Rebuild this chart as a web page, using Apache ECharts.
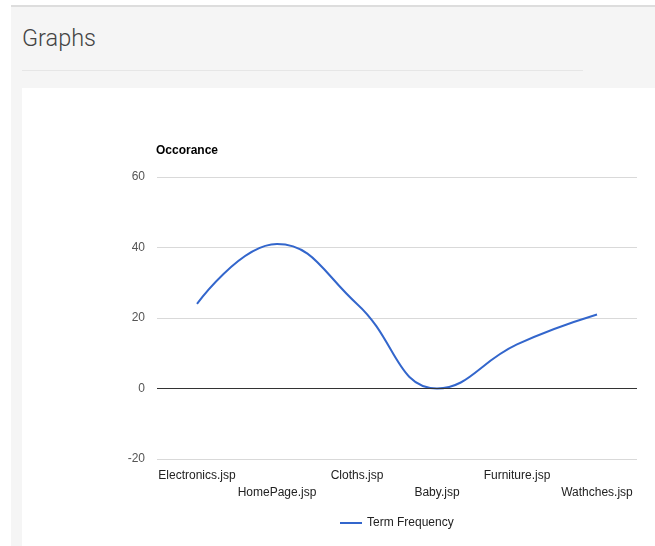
<!DOCTYPE html>
<html>
<head>
<meta charset="utf-8">
<script src="https://cdn.jsdelivr.net/npm/echarts@6/dist/echarts.min.js"></script>
<style>
  html, body { margin: 0; padding: 0; width: 655px; height: 546px; overflow: hidden; background: #fff; }
  #panel { position: absolute; left: 11px; top: 5px; width: 644px; height: 541px; background: #f5f5f5; border-top: 2px solid #ddd; }
  #title { position: absolute; left: 22px; top: 24px; font-family: Roboto, sans-serif; font-weight: 300; font-size: 23.5px; color: #444; }
  #rule { position: absolute; left: 22px; top: 70px; width: 561px; height: 1px; background: #e6e6e6; }
  #chart { position: absolute; left: 22px; top: 88px; width: 633px; height: 458px; background: #fff; }
</style>
</head>
<body>
<div id="panel"></div>
<div id="title">Graphs</div>
<div id="rule"></div>
<div id="chart"></div>
<script>
const categories = ['Electronics.jsp', 'HomePage.jsp', 'Cloths.jsp', 'Baby.jsp', 'Furniture.jsp', 'Wathches.jsp'];
const termFrequency = [24, 41, 24, 0, 12.5, 21];
const yTicks = { min: -20, max: 60, interval: 20 };
const seriesName = 'Term Frequency';
const axisTitle = 'Occorance';

const chart = echarts.init(document.getElementById('chart'));
chart.setOption({
  animation: false,
  textStyle: { fontFamily: 'Liberation Sans, Arial, sans-serif' },
  title: {
    text: axisTitle, left: 129, top: 52,
    textStyle: { fontSize: 12, fontWeight: 'bold', color: '#000', fontFamily: 'Liberation Sans, Arial, sans-serif' }
  },
  grid: { left: 135, right: 18, top: 89, bottom: 87, containLabel: false },
  legend: {
    bottom: 12, left: 313, icon: 'rect', itemWidth: 22, itemHeight: 2, itemGap: 6,
    textStyle: { fontSize: 12, color: '#222', fontFamily: 'Liberation Sans, Arial, sans-serif' },
    data: [seriesName]
  },
  xAxis: {
    type: 'category', data: categories, boundaryGap: true,
    axisLine: { show: false }, axisTick: { show: false },
    axisLabel: {
      interval: 0, margin: 8, fontSize: 12, color: '#222', lineHeight: 17, hideOverlap: false,
      formatter: (v, i) => (i % 2 ? '\n' + v : v)
    }
  },
  yAxis: {
    type: 'value', min: yTicks.min, max: yTicks.max, interval: yTicks.interval,
    axisLine: { show: false }, axisTick: { show: false },
    axisLabel: { margin: 12, fontSize: 12, color: '#555' },
    splitLine: { lineStyle: { color: '#d9d9d9', width: 1 } }
  },
  series: [{
    name: seriesName, type: 'line', data: termFrequency, smooth: 0.45,
    symbol: 'none', lineStyle: { color: '#3366cc', width: 2 }, itemStyle: { color: '#3366cc' },
    markLine: {
      silent: true, symbol: 'none', label: { show: false },
      lineStyle: { color: '#333', width: 1, type: 'solid' },
      data: [{ yAxis: 0 }]
    }
  }]
});
</script>
</body>
</html>
